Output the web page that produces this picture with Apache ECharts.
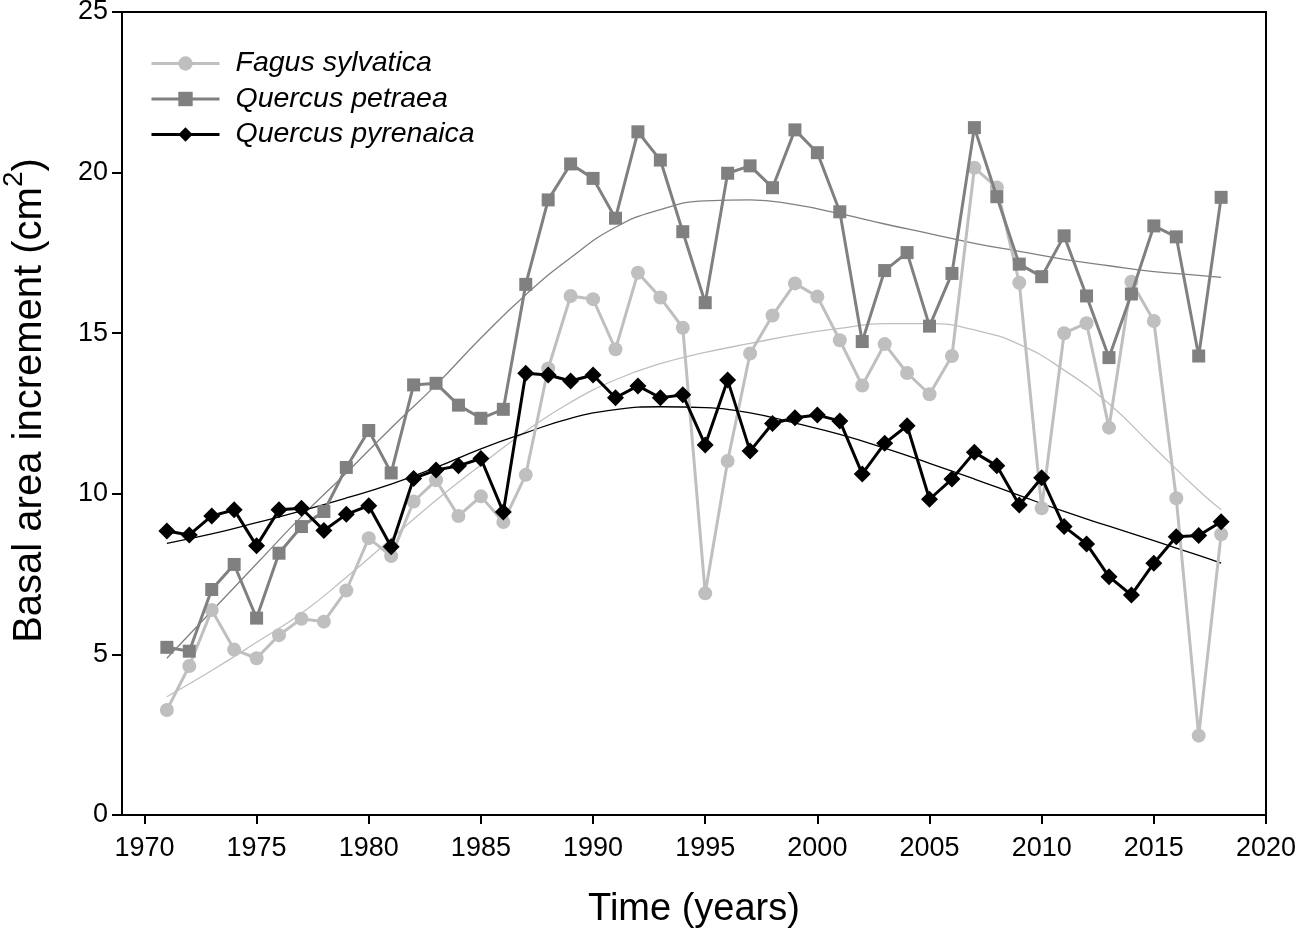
<!DOCTYPE html>
<html>
<head>
<meta charset="utf-8">
<script src="https://cdn.jsdelivr.net/npm/echarts@6/dist/echarts.min.js"></script>
<style>
html,body{margin:0;padding:0;background:#fff;}
#chart{width:1299px;height:931px;}
</style>
</head>
<body>
<div id="chart"></div>
<script>
var years = [1971,1972,1973,1974,1975,1976,1977,1978,1979,1980,
             1981,1982,1983,1984,1985,1986,1987,1988,1989,1990,
             1991,1992,1993,1994,1995,1996,1997,1998,1999,2000,
             2001,2002,2003,2004,2005,2006,2007,2008,2009,2010,
             2011,2012,2013,2014,2015,2016,2017,2018];

var fagus = [3.27,4.64,6.38,5.15,4.88,5.60,6.11,6.02,6.99,8.62,
             8.06,9.76,10.42,9.31,9.92,9.12,10.59,13.90,16.16,16.06,
             14.50,16.88,16.11,15.17,6.90,11.02,14.37,15.55,16.55,16.14,
             14.78,13.37,14.66,13.76,13.10,14.29,20.15,19.54,16.57,9.55,
             15.00,15.31,12.06,16.60,15.38,9.86,2.47,8.74];

var petraea = [5.22,5.10,7.02,7.80,6.13,8.15,8.98,9.45,10.82,11.97,
               10.65,13.39,13.44,12.76,12.35,12.63,16.52,19.15,20.27,19.82,
               18.58,21.27,20.39,18.16,15.95,19.98,20.21,19.53,21.33,20.62,
               18.78,14.74,16.95,17.51,15.22,16.86,21.40,19.25,17.15,16.76,
               18.03,16.16,14.24,16.22,18.34,18.00,14.29,19.23];

var pyrenaica = [8.84,8.72,9.31,9.50,8.38,9.50,9.55,8.86,9.36,9.63,
                 8.35,10.48,10.74,10.87,11.10,9.43,13.75,13.70,13.51,13.70,
                 12.99,13.36,12.99,13.08,11.52,13.54,11.33,12.19,12.37,12.45,
                 12.27,10.62,11.57,12.12,9.83,10.46,11.29,10.87,9.65,10.50,
                 8.98,8.44,7.42,6.85,7.84,8.66,8.70,9.13];

var trendYears = [1971,1973,1975,1977,1979,1981,1983,1985,1987,1989,1991,1993,1995,
                  1997,1999,2001,2003,2005,2007,2009,2011,2013,2015,2017,2018];
var fagusTrend     = [3.68,4.50,5.38,6.28,7.40,8.60,9.80,10.90,11.95,12.85,13.55,14.05,14.40,
                      14.68,14.95,15.15,15.30,15.30,15.10,14.65,13.85,12.80,11.45,10.10,9.50];
var petraeaTrend   = [4.88,6.35,7.82,9.29,10.65,12.05,13.39,14.85,16.20,17.35,18.30,18.85,19.12,
                      19.15,19.00,18.72,18.40,18.10,17.80,17.55,17.30,17.10,16.92,16.80,16.74];
var pyrenaicaTrend = [8.46,8.75,9.10,9.47,9.87,10.30,10.82,11.40,11.90,12.35,12.62,12.71,12.68,
                      12.52,12.20,11.85,11.42,10.95,10.46,9.95,9.45,8.99,8.54,8.08,7.84];

var xTicks = [1970,1975,1980,1985,1990,1995,2000,2005,2010,2015,2020];

var names = ['Fagus sylvatica','Quercus petraea','Quercus pyrenaica'];
var colors = ['#bfbfbf','#808080','#000000'];

function pairs(xs, ys){ return xs.map(function(x,i){ return [x, ys[i]]; }); }

var chart = echarts.init(document.getElementById('chart'));
var fontFam = 'Liberation Sans, Arial, sans-serif';

function trendSeries(vals, color){
  return {
    type:'line', data: pairs(trendYears, vals), smooth: true, showSymbol:false, symbol:'none',
    lineStyle:{color:color, width:1.3}, z:1, silent:true
  };
}
function dataSeries(i, symbol, size, vals){
  return {
    name: names[i], type:'line', data: pairs(years, vals), symbol: symbol, symbolSize: size,
    lineStyle:{color:colors[i], width:3}, itemStyle:{color:colors[i]}, z: 3 + i
  };
}

chart.setOption({
  animation:false,
  backgroundColor:'#fff',
  textStyle:{fontFamily: fontFam},
  grid:{left:122, right:33, top:12, bottom:116, outerBoundsMode:'none', containLabel:false,
        show:true, borderColor:'#000', borderWidth:2, backgroundColor:'transparent'},
  legend:{
    data: names, orient:'vertical', left:145, top:44, itemWidth:68, itemHeight:18, itemGap:6.5,
    lineStyle:{width:3},
    textStyle:{fontSize:28.5, lineHeight:28, fontStyle:'italic', color:'#000', fontFamily: fontFam, padding:[0,0,0,11]}
  },
  xAxis:{
    type:'value', min:1969, max:2020,
    name:'Time (years)', nameLocation:'middle', nameGap:76,
    nameTextStyle:{fontSize:38, color:'#000', fontFamily: fontFam},
    axisLine:{show:true, onZero:false, lineStyle:{color:'#000', width:2}},
    axisTick:{show:true, inside:false, length:9, lineStyle:{color:'#000', width:2}, customValues: xTicks},
    axisLabel:{color:'#000', fontSize:27, margin:20, customValues: xTicks, fontFamily: fontFam,
               formatter:function(v){ return String(v); }},
    splitLine:{show:false}
  },
  yAxis:{
    type:'value', min:0, max:25, interval:5,
    name:'{a|Basal area increment (cm}{s|2}{a|)}', nameLocation:'middle', nameGap:72, nameRotate:90,
    nameTextStyle:{color:'#000', fontFamily: fontFam, padding:[0,0,0,26],
      rich:{a:{fontSize:40, color:'#000', fontFamily: fontFam, verticalAlign:'bottom', lineHeight:50},
            s:{fontSize:28, color:'#000', fontFamily: fontFam, verticalAlign:'top', lineHeight:50}}},
    axisLine:{show:true, lineStyle:{color:'#000', width:2}},
    axisTick:{show:true, inside:false, length:10, lineStyle:{color:'#000', width:2}},
    axisLabel:{color:'#000', fontSize:27, margin:14, fontFamily: fontFam,
               formatter:function(v){ return String(v); }},
    splitLine:{show:false}
  },
  series:[
    trendSeries(fagusTrend, '#bfbfbf'),
    trendSeries(petraeaTrend, '#808080'),
    trendSeries(pyrenaicaTrend, '#000000'),
    dataSeries(0, 'circle', 14, fagus),
    dataSeries(1, 'rect', 13, petraea),
    dataSeries(2, 'diamond', 17, pyrenaica)
  ]
});
</script>
</body>
</html>
